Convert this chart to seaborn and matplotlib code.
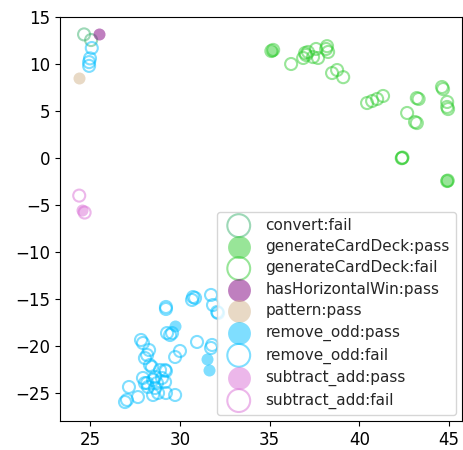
import numpy as np
import pandas as pd
import seaborn as sns
import matplotlib
matplotlib.use("Agg")
import matplotlib.pyplot as plt

# group labels, in legend order
groups = ["convert:fail", "generateCardDeck:pass", "generateCardDeck:fail",
          "hasHorizontalWin:pass", "pattern:pass", "remove_odd:pass",
          "remove_odd:fail", "subtract_add:pass", "subtract_add:fail"]

convert_fail_x = [24.67, 25.06]
convert_fail_y = [13.15, 12.55]

gcd_pass_x = [35.14, 44.89]
gcd_pass_y = [11.38, -2.45]

gcd_fail_x = [36.20, 35.10, 35.20, 36.98, 36.87, 37.14, 37.03, 37.42, 37.59, 37.70,
              38.20, 38.26, 38.15, 38.48, 38.76, 39.10,
              40.43, 40.71, 40.99, 41.32, 43.20, 43.30, 42.66, 43.10, 43.20,
              44.60, 44.66, 44.89, 44.89, 44.94, 42.38, 42.40, 42.36, 44.89, 44.92]
gcd_fail_y = [10.00, 11.38, 11.50, 11.17, 10.64, 11.28, 10.96, 10.74, 11.60, 10.64,
              11.90, 11.28, 11.60, 9.04, 9.36, 8.60,
              5.85, 6.06, 6.28, 6.60, 6.38, 6.28, 4.79, 3.83, 3.72,
              7.55, 7.34, 5.96, 5.43, 5.21, 0.00, 0.05, -0.02, -2.45, -2.40]

hhw_pass_x = [25.50]
hhw_pass_y = [13.15]

pattern_pass_x = [24.40]
pattern_pass_y = [8.50]

ro_pass_x = [29.74, 31.52, 31.63]
ro_pass_y = [-17.87, -21.38, -22.55]

ro_fail_x = [25.10, 25.00, 24.95, 24.95,
             30.74, 30.85, 30.68, 31.74, 31.85, 32.08, 32.13, 29.23, 29.23,
             29.29, 29.57, 29.46, 27.84, 27.95, 28.29, 28.18, 28.06, 28.34, 28.45,
             30.01, 29.74, 30.96, 31.80, 31.74, 28.90, 29.18, 27.17, 26.95, 27.06,
             27.67, 27.95, 28.06, 28.18, 28.23, 28.51, 28.62, 28.73, 29.01, 29.18,
             29.23, 28.51, 28.79, 29.23, 29.74, 28.62]
ro_fail_y = [11.70, 10.60, 10.20, 9.80,
             -14.79, -14.89, -15.10, -14.57, -15.64, -16.38, -16.49, -15.85, -16.06,
             -18.62, -18.62, -18.83, -19.36, -19.68, -20.43, -20.96, -21.28, -22.02, -22.23,
             -20.53, -21.17, -19.57, -19.89, -20.21, -22.55, -22.55, -24.36, -25.96, -25.74,
             -25.43, -23.40, -23.94, -23.94, -24.36, -23.62, -23.30, -23.94, -23.40, -23.83,
             -22.66, -25.21, -25.00, -25.00, -25.21, -24.47]

sa_pass_x = [24.55]
sa_pass_y = [-5.55]

sa_fail_x = [24.40, 24.70]
sa_fail_y = [-4.00, -5.80]

group_x = [convert_fail_x, gcd_pass_x, gcd_fail_x, hhw_pass_x, pattern_pass_x,
           ro_pass_x, ro_fail_x, sa_pass_x, sa_fail_x]
group_y = [convert_fail_y, gcd_pass_y, gcd_fail_y, hhw_pass_y, pattern_pass_y,
           ro_pass_y, ro_fail_y, sa_pass_y, sa_fail_y]

colors = {"convert": "mediumseagreen", "generateCardDeck": "limegreen",
          "hasHorizontalWin": "purple", "pattern": "tan",
          "remove_odd": "deepskyblue", "subtract_add": "orchid"}

rows = []
for g, xs, ys in zip(groups, group_x, group_y):
    for x, y in zip(xs, ys):
        rows.append({"x": x, "y": y, "group": g})
df = pd.DataFrame(rows)

sns.set_style("ticks")
fig = plt.figure(figsize=(4.63, 4.5), dpi=100)
ax = fig.add_axes([0.1296, 0.0644, 0.8684, 0.8978])

for g in groups:
    sub = df[df["group"] == g]
    func, res = g.split(":")
    c = colors[func]
    if res == "pass":
        sns.scatterplot(data=sub, x="x", y="y", ax=ax, marker="o", s=75,
                        color=c, alpha=0.5, linewidth=0, label=g)
    else:
        sns.scatterplot(data=sub, x="x", y="y", ax=ax, marker="o", s=75,
                        facecolors="none", edgecolors=c, alpha=0.5,
                        linewidth=1.5, label=g)

ax.set_xlim(23.33, 45.72)
ax.set_ylim(-27.98, 15.0)
ax.set_xticks([25, 30, 35, 40, 45])
ax.set_yticks([-25, -20, -15, -10, -5, 0, 5, 10, 15])
ax.set_xlabel("")
ax.set_ylabel("")
ax.tick_params(labelsize=12, color="black", labelcolor="black")
for s in ax.spines.values():
    s.set_visible(True)
    s.set_color("black")
ax.legend(loc="lower right", fontsize=11, markerscale=1.9,
          labelspacing=0.42, handletextpad=0.75, borderaxespad=0.4)

fig.savefig("out.png", dpi=100)
